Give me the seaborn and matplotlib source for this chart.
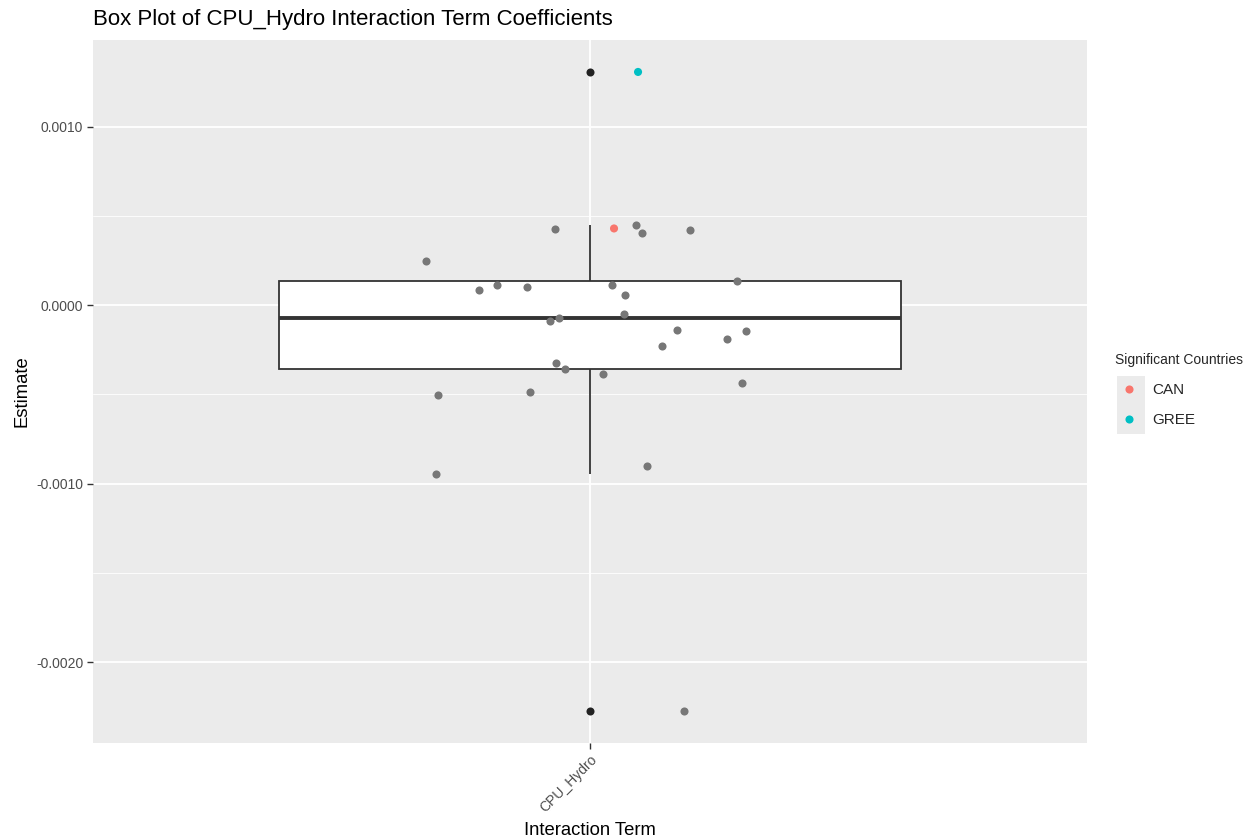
import matplotlib
matplotlib.use("Agg")
import matplotlib.pyplot as plt
import seaborn as sns
import numpy as np
import pandas as pd
from matplotlib.patches import Rectangle
from matplotlib.ticker import FixedLocator

# ---------------- data ----------------
term = "CPU_Hydro"
other_estimates = [0.000246, 0.000425, 0.000447, 0.000402, 0.000419, 0.000134,
                   0.0000838, 0.000112, 0.000101, 0.000112, 0.0000559, -0.0000503,
                   -0.0000894, -0.0000726, -0.000140, -0.000145, -0.000229, -0.000190,
                   -0.000324, -0.000358, -0.000385, -0.000436, -0.000503, -0.000486,
                   -0.000899, -0.000944, -0.002274]
other_jitter = [-0.198, -0.042, 0.056, 0.063, 0.121, 0.178,
                -0.134, -0.112, -0.076, 0.027, 0.042, 0.041,
                -0.048, -0.037, 0.105, 0.188, 0.087, 0.165,
                -0.041, -0.030, 0.016, 0.184, -0.184, -0.072,
                0.069, -0.186, 0.114]
sig_countries = ["CAN", "GREE"]
sig_estimates = [0.000430, 0.001307]
sig_jitter = [0.029, 0.058]
sig_colors = ["#F8766D", "#00BFC4"]
y_ticks = [-0.002, -0.001, 0.0, 0.001]
y_ticklabels = ["-0.0020", "-0.0010", "0.0000", "0.0010"]
y_minor = [-0.0015, -0.0005, 0.0005]

all_est = other_estimates + sig_estimates
box_df = pd.DataFrame({"term": [term] * len(all_est), "estimate": all_est})
other_df = pd.DataFrame({"x": other_jitter, "estimate": other_estimates})
sig_df = pd.DataFrame({"x": sig_jitter, "estimate": sig_estimates, "country": sig_countries})

# ---------------- style ----------------
sns.set_style("white")
plt.rcParams["font.family"] = ["Liberation Sans", "DejaVu Sans"]

W, H = 1253, 840
fig = plt.figure(figsize=(W / 100, H / 100), dpi=100)
L, R, T, B = 93, 1087, 40, 743
ax = fig.add_axes([L / W, 1 - B / H, (R - L) / W, (B - T) / H])
ax.set_facecolor("#EBEBEB")
for s in ax.spines.values():
    s.set_visible(False)

sns.boxplot(data=box_df, x="term", y="estimate", ax=ax, width=0.75,
            color="white", linecolor="#333333", linewidth=1.3,
            showcaps=False,
            medianprops=dict(linewidth=2.8, color="#333333"),
            flierprops=dict(marker="o", markersize=5.8, markerfacecolor="#222222",
                            markeredgewidth=0, markeredgecolor="#222222"),
            zorder=2)
for p in ax.patches:
    p.set_facecolor("white")

sns.scatterplot(data=other_df, x="x", y="estimate", ax=ax, color="#777777",
                s=34, linewidth=0, zorder=4, legend=False)
sns.scatterplot(data=sig_df, x="x", y="estimate", hue="country",
                palette=dict(zip(sig_countries, sig_colors)), ax=ax,
                s=34, linewidth=0, zorder=5, legend=True)

ax.set_xlim(-0.6, 0.6)
ax.set_ylim(-0.002453, 0.001486)
ax.set_xticks([0])
ax.set_xticklabels([term], rotation=45, ha="right",
                   rotation_mode="anchor", color="#4D4D4D", fontsize=10)
ax.set_yticks(y_ticks)
ax.set_yticklabels(y_ticklabels, color="#4D4D4D", fontsize=10)
ax.yaxis.set_minor_locator(FixedLocator(y_minor))
ax.tick_params(axis="both", which="major", length=4, width=1, color="#333333",
               direction="out", pad=3, left=True, bottom=True)
ax.tick_params(axis="y", which="minor", length=0)
ax.grid(True, which="major", color="white", linewidth=1.3, zorder=0)
ax.grid(True, which="minor", axis="y", color="white", linewidth=0.6, zorder=0)
ax.set_axisbelow(True)

ax.set_xlabel("Interaction Term", fontsize=13.3, color="black", labelpad=5)
ax.set_ylabel("Estimate", fontsize=13.3, color="black", labelpad=4)
fig.text(L / W, 1 - 19 / H, "Box Plot of CPU_Hydro Interaction Term Coefficients",
         fontsize=16, color="black", ha="left", va="center")

# legend
handles, labels = ax.get_legend_handles_labels()
ax.legend_.remove()
fig.add_artist(Rectangle((1117 / W, 1 - 434 / H), 28 / W, 58 / H,
                         transform=fig.transFigure, facecolor="#EBEBEB",
                         edgecolor="none", zorder=0))
lg = fig.legend(handles, labels, title="Significant Countries",
                loc="upper left", bbox_to_anchor=(1109 / W, 1 - 347 / H),
                frameon=False, fontsize=11, title_fontsize=10,
                handlelength=1.8, handletextpad=0.65, labelspacing=1.05,
                borderaxespad=0, alignment="left", markerscale=1.0)
lg.set_zorder(3)

fig.savefig("out.png", dpi=100, facecolor="white")
